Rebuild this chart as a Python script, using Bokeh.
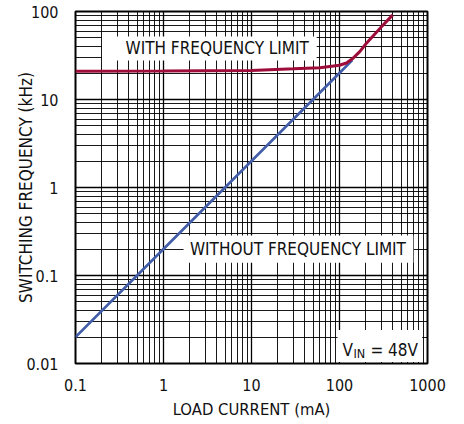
from bokeh.plotting import figure
from bokeh.models import FixedTicker, CustomJSTickFormatter, Label, BoxAnnotation
from bokeh.embed import file_html
from bokeh.resources import INLINE

# data
x_ticks = [0.1, 1, 10, 100, 1000]
y_ticks = [0.01, 0.1, 1, 10, 100]

load_without = [0.1, 1, 10, 100, 140]
freq_without = [0.02, 0.2, 2, 20, 28]

load_with = [0.1, 1, 10, 30, 60, 100, 120, 140, 170, 200, 300, 400]
freq_with = [21, 21.1, 21.4, 22.3, 23, 24.5, 26, 29, 35, 43, 67, 91]

FONT = "DejaVu Sans Condensed"
RED = "#9e0d3a"
BLUE = "#3f5dab"

def minors(decades):
    out = []
    for d in decades:
        for k in range(2, 10):
            out.append(round(d * k, 6))
    return out

p = figure(frame_width=352, frame_height=352, x_axis_type="log", y_axis_type="log",
           x_range=(0.1, 1000), y_range=(0.01, 100),
           output_backend="svg", toolbar_location=None,
           min_border_left=75, min_border_right=21, min_border_top=11, min_border_bottom=45)
p.background_fill_color = "white"
p.border_fill_color = "white"
p.outline_line_color = "black"
p.outline_line_width = 2

p.xaxis.ticker = FixedTicker(ticks=x_ticks, minor_ticks=minors(x_ticks[:-1]))
p.yaxis.ticker = FixedTicker(ticks=y_ticks, minor_ticks=minors(y_ticks[:-1]))
fmt = "return tick.toString();"
p.xaxis.formatter = CustomJSTickFormatter(code=fmt)
p.yaxis.formatter = CustomJSTickFormatter(code=fmt)

for ax in (p.xaxis, p.yaxis):
    ax.axis_line_color = None
    ax.major_tick_line_color = None
    ax.minor_tick_line_color = None
    ax.major_label_text_font = FONT
    ax.major_label_text_font_size = "16px"
    ax.major_label_text_color = "#111111"
    ax.axis_label_text_font = FONT
    ax.axis_label_text_font_style = "normal"
    ax.axis_label_text_color = "#111111"

p.xaxis.axis_label = "LOAD CURRENT (mA)"
p.yaxis.axis_label = "SWITCHING FREQUENCY (kHz)"
p.xaxis.axis_label_text_font_size = "16.5px"
p.yaxis.axis_label_text_font_size = "17px"
p.xaxis.major_label_standoff = 9
p.xaxis.axis_label_standoff = 6
p.yaxis.major_label_standoff = 11
p.yaxis.axis_label_standoff = -13

for g in (p.xgrid, p.ygrid):
    g.grid_line_color = "black"
    g.grid_line_width = 1.3
    g.grid_line_alpha = 1
    g.minor_grid_line_color = "black"
    g.minor_grid_line_width = 1
    g.minor_grid_line_alpha = 0.9

p.line(load_without, freq_without, line_color=BLUE, line_width=2.6)
p.line(load_with, freq_with, line_color=RED, line_width=3.0)

# white boxes behind annotations
p.add_layout(BoxAnnotation(left=0.2, right=55, bottom=27.7, top=52,
                           fill_color="white", fill_alpha=1, line_color=None))
p.add_layout(BoxAnnotation(left=1.69, right=690, bottom=0.14, top=0.285,
                           fill_color="white", fill_alpha=1, line_color=None))
p.add_layout(BoxAnnotation(left=95, right=870, bottom=0.0104, top=0.024,
                           fill_color="white", fill_alpha=1, line_color=None))

lab_style = dict(text_font=FONT, text_font_size="17px", text_color="#111111")
p.add_layout(Label(x=0.37, y=38, text="WITH FREQUENCY LIMIT",
                   text_baseline="middle", text_align="left", **lab_style))
p.add_layout(Label(x=2.0, y=0.2, text="WITHOUT FREQUENCY LIMIT",
                   text_baseline="middle", text_align="left", **lab_style))
p.add_layout(Label(x=108, y=0.0144, text="V", text_baseline="alphabetic",
                   text_align="left", **lab_style))
p.add_layout(Label(x=108, y=0.0144, x_offset=11, y_offset=-4, text="IN",
                   text_baseline="alphabetic", text_align="left",
                   text_font=FONT, text_font_size="12.5px", text_color="#111111"))
p.add_layout(Label(x=108, y=0.0144, x_offset=28, text="= 48V",
                   text_baseline="alphabetic", text_align="left", **lab_style))

open("out.html", "w").write(file_html(p, INLINE))
